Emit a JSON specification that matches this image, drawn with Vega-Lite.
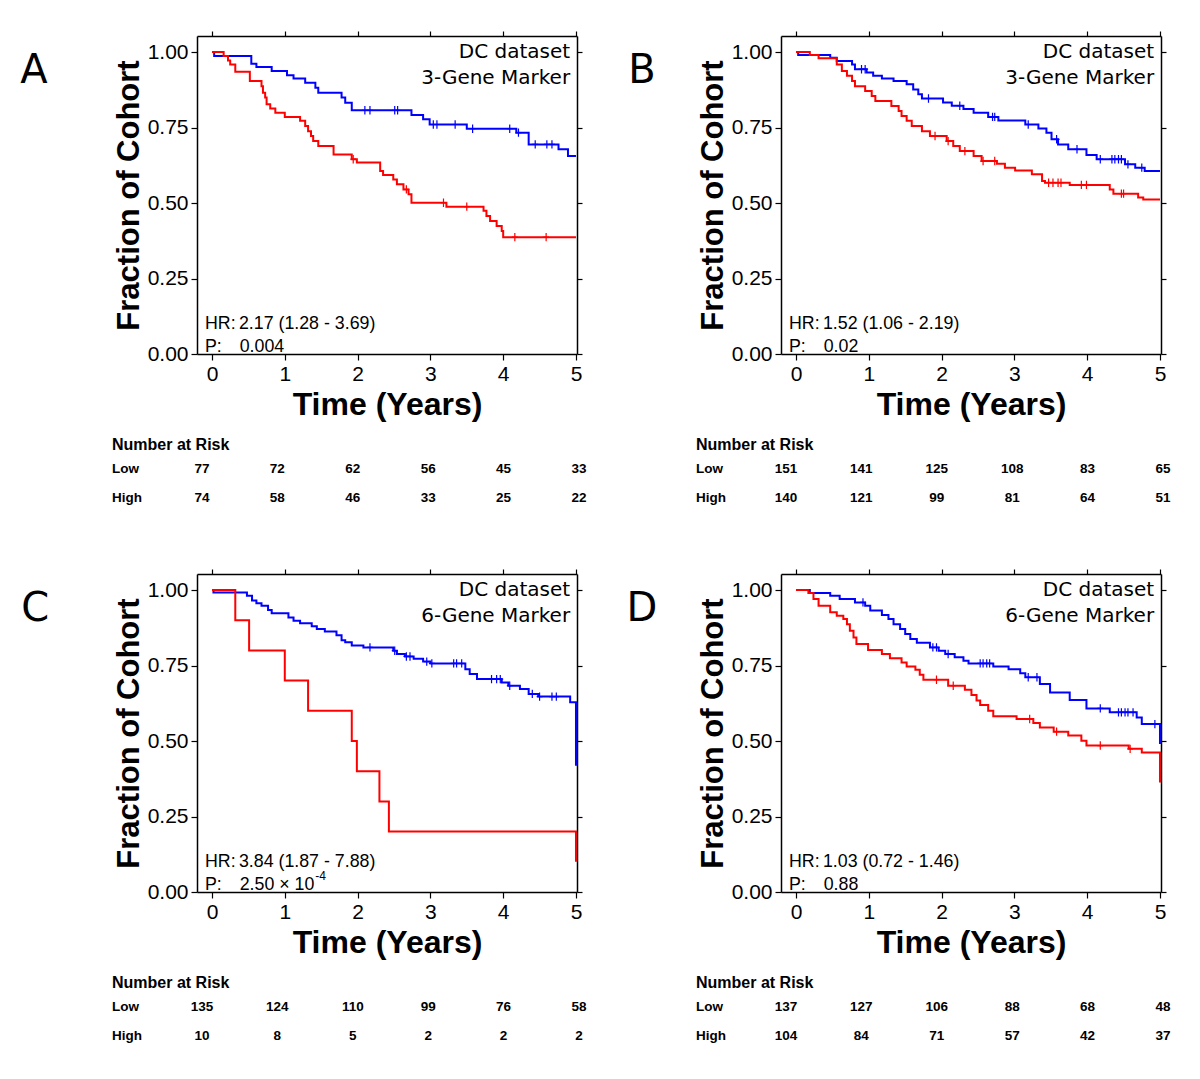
{
"$schema": "https://vega.github.io/schema/vega-lite/v6.json",
"padding": {"left": 20, "top": 30, "right": 10, "bottom": 10},
"datasets": {
"curves": [
{"panel":"A","group":"Low","t":0,"s":1},{"panel":"A","group":"Low","t":0.03,"s":0.987},{"panel":"A","group":"Low","t":0.54,"s":0.961},{"panel":"A","group":"Low","t":0.61,"s":0.95},{"panel":"A","group":"Low","t":0.82,"s":0.937},{"panel":"A","group":"Low","t":1.03,"s":0.923},{"panel":"A","group":"Low","t":1.12,"s":0.912},{"panel":"A","group":"Low","t":1.28,"s":0.898},{"panel":"A","group":"Low","t":1.42,"s":0.882},{"panel":"A","group":"Low","t":1.46,"s":0.865},{"panel":"A","group":"Low","t":1.78,"s":0.849},{"panel":"A","group":"Low","t":1.83,"s":0.832},{"panel":"A","group":"Low","t":1.92,"s":0.807},{"panel":"A","group":"Low","t":2.74,"s":0.791},{"panel":"A","group":"Low","t":2.9,"s":0.777},{"panel":"A","group":"Low","t":2.99,"s":0.76},{"panel":"A","group":"Low","t":3.5,"s":0.746},{"panel":"A","group":"Low","t":4.18,"s":0.733},{"panel":"A","group":"Low","t":4.35,"s":0.694},{"panel":"A","group":"Low","t":4.76,"s":0.678},{"panel":"A","group":"Low","t":4.89,"s":0.656},{"panel":"A","group":"Low","t":5,"s":0.656},
{"panel":"A","group":"High","t":0,"s":1},{"panel":"A","group":"High","t":0.16,"s":0.987},{"panel":"A","group":"High","t":0.22,"s":0.972},{"panel":"A","group":"High","t":0.25,"s":0.959},{"panel":"A","group":"High","t":0.32,"s":0.935},{"panel":"A","group":"High","t":0.52,"s":0.904},{"panel":"A","group":"High","t":0.68,"s":0.887},{"panel":"A","group":"High","t":0.7,"s":0.865},{"panel":"A","group":"High","t":0.73,"s":0.849},{"panel":"A","group":"High","t":0.75,"s":0.827},{"panel":"A","group":"High","t":0.8,"s":0.813},{"panel":"A","group":"High","t":0.87,"s":0.799},{"panel":"A","group":"High","t":1,"s":0.785},{"panel":"A","group":"High","t":1.21,"s":0.772},{"panel":"A","group":"High","t":1.28,"s":0.755},{"panel":"A","group":"High","t":1.32,"s":0.738},{"panel":"A","group":"High","t":1.36,"s":0.722},{"panel":"A","group":"High","t":1.39,"s":0.705},{"panel":"A","group":"High","t":1.46,"s":0.689},{"panel":"A","group":"High","t":1.67,"s":0.661},{"panel":"A","group":"High","t":1.92,"s":0.645},{"panel":"A","group":"High","t":1.99,"s":0.634},{"panel":"A","group":"High","t":2.31,"s":0.606},{"panel":"A","group":"High","t":2.35,"s":0.593},{"panel":"A","group":"High","t":2.49,"s":0.578},{"panel":"A","group":"High","t":2.54,"s":0.562},{"panel":"A","group":"High","t":2.63,"s":0.545},{"panel":"A","group":"High","t":2.7,"s":0.529},{"panel":"A","group":"High","t":2.74,"s":0.501},{"panel":"A","group":"High","t":3.22,"s":0.488},{"panel":"A","group":"High","t":3.73,"s":0.474},{"panel":"A","group":"High","t":3.77,"s":0.457},{"panel":"A","group":"High","t":3.82,"s":0.44},{"panel":"A","group":"High","t":3.91,"s":0.424},{"panel":"A","group":"High","t":3.98,"s":0.407},{"panel":"A","group":"High","t":4,"s":0.387},{"panel":"A","group":"High","t":5,"s":0.387},
{"panel":"B","group":"Low","t":0,"s":1},{"panel":"B","group":"Low","t":0.03,"s":0.99},{"panel":"B","group":"Low","t":0.47,"s":0.981},{"panel":"B","group":"Low","t":0.56,"s":0.97},{"panel":"B","group":"Low","t":0.77,"s":0.959},{"panel":"B","group":"Low","t":0.81,"s":0.943},{"panel":"B","group":"Low","t":0.97,"s":0.932},{"panel":"B","group":"Low","t":1.06,"s":0.921},{"panel":"B","group":"Low","t":1.18,"s":0.912},{"panel":"B","group":"Low","t":1.34,"s":0.904},{"panel":"B","group":"Low","t":1.52,"s":0.893},{"panel":"B","group":"Low","t":1.61,"s":0.876},{"panel":"B","group":"Low","t":1.68,"s":0.86},{"panel":"B","group":"Low","t":1.73,"s":0.846},{"panel":"B","group":"Low","t":2.02,"s":0.833},{"panel":"B","group":"Low","t":2.14,"s":0.822},{"panel":"B","group":"Low","t":2.3,"s":0.811},{"panel":"B","group":"Low","t":2.44,"s":0.799},{"panel":"B","group":"Low","t":2.64,"s":0.785},{"panel":"B","group":"Low","t":2.78,"s":0.773},{"panel":"B","group":"Low","t":3.15,"s":0.76},{"panel":"B","group":"Low","t":3.33,"s":0.747},{"panel":"B","group":"Low","t":3.44,"s":0.733},{"panel":"B","group":"Low","t":3.51,"s":0.711},{"panel":"B","group":"Low","t":3.6,"s":0.694},{"panel":"B","group":"Low","t":3.74,"s":0.678},{"panel":"B","group":"Low","t":3.99,"s":0.659},{"panel":"B","group":"Low","t":4.13,"s":0.645},{"panel":"B","group":"Low","t":4.52,"s":0.628},{"panel":"B","group":"Low","t":4.66,"s":0.617},{"panel":"B","group":"Low","t":4.79,"s":0.606},{"panel":"B","group":"Low","t":5,"s":0.606},
{"panel":"B","group":"High","t":0,"s":1},{"panel":"B","group":"High","t":0.19,"s":0.99},{"panel":"B","group":"High","t":0.31,"s":0.979},{"panel":"B","group":"High","t":0.56,"s":0.959},{"panel":"B","group":"High","t":0.63,"s":0.937},{"panel":"B","group":"High","t":0.7,"s":0.921},{"panel":"B","group":"High","t":0.77,"s":0.904},{"panel":"B","group":"High","t":0.81,"s":0.887},{"panel":"B","group":"High","t":0.95,"s":0.871},{"panel":"B","group":"High","t":1.04,"s":0.854},{"panel":"B","group":"High","t":1.09,"s":0.838},{"panel":"B","group":"High","t":1.31,"s":0.821},{"panel":"B","group":"High","t":1.41,"s":0.805},{"panel":"B","group":"High","t":1.45,"s":0.788},{"panel":"B","group":"High","t":1.52,"s":0.772},{"panel":"B","group":"High","t":1.59,"s":0.755},{"panel":"B","group":"High","t":1.73,"s":0.738},{"panel":"B","group":"High","t":1.84,"s":0.722},{"panel":"B","group":"High","t":2.07,"s":0.705},{"panel":"B","group":"High","t":2.16,"s":0.689},{"panel":"B","group":"High","t":2.25,"s":0.672},{"panel":"B","group":"High","t":2.44,"s":0.656},{"panel":"B","group":"High","t":2.55,"s":0.639},{"panel":"B","group":"High","t":2.76,"s":0.63},{"panel":"B","group":"High","t":2.87,"s":0.617},{"panel":"B","group":"High","t":3.01,"s":0.608},{"panel":"B","group":"High","t":3.24,"s":0.595},{"panel":"B","group":"High","t":3.38,"s":0.573},{"panel":"B","group":"High","t":3.42,"s":0.567},{"panel":"B","group":"High","t":3.76,"s":0.56},{"panel":"B","group":"High","t":4.31,"s":0.545},{"panel":"B","group":"High","t":4.36,"s":0.531},{"panel":"B","group":"High","t":4.7,"s":0.518},{"panel":"B","group":"High","t":4.77,"s":0.512},{"panel":"B","group":"High","t":5,"s":0.512},
{"panel":"C","group":"Low","t":0,"s":1},{"panel":"C","group":"Low","t":0.02,"s":0.992},{"panel":"C","group":"Low","t":0.48,"s":0.981},{"panel":"C","group":"Low","t":0.55,"s":0.965},{"panel":"C","group":"Low","t":0.61,"s":0.956},{"panel":"C","group":"Low","t":0.68,"s":0.948},{"panel":"C","group":"Low","t":0.77,"s":0.934},{"panel":"C","group":"Low","t":0.82,"s":0.923},{"panel":"C","group":"Low","t":1.05,"s":0.909},{"panel":"C","group":"Low","t":1.12,"s":0.898},{"panel":"C","group":"Low","t":1.21,"s":0.89},{"panel":"C","group":"Low","t":1.37,"s":0.88},{"panel":"C","group":"Low","t":1.44,"s":0.871},{"panel":"C","group":"Low","t":1.55,"s":0.863},{"panel":"C","group":"Low","t":1.71,"s":0.85},{"panel":"C","group":"Low","t":1.78,"s":0.834},{"panel":"C","group":"Low","t":1.83,"s":0.827},{"panel":"C","group":"Low","t":1.92,"s":0.816},{"panel":"C","group":"Low","t":2.08,"s":0.81},{"panel":"C","group":"Low","t":2.49,"s":0.799},{"panel":"C","group":"Low","t":2.54,"s":0.788},{"panel":"C","group":"Low","t":2.65,"s":0.78},{"panel":"C","group":"Low","t":2.77,"s":0.772},{"panel":"C","group":"Low","t":2.9,"s":0.763},{"panel":"C","group":"Low","t":3,"s":0.757},{"panel":"C","group":"Low","t":3.48,"s":0.738},{"panel":"C","group":"Low","t":3.54,"s":0.722},{"panel":"C","group":"Low","t":3.64,"s":0.705},{"panel":"C","group":"Low","t":3.98,"s":0.694},{"panel":"C","group":"Low","t":4.07,"s":0.683},{"panel":"C","group":"Low","t":4.23,"s":0.672},{"panel":"C","group":"Low","t":4.35,"s":0.656},{"panel":"C","group":"Low","t":4.48,"s":0.647},{"panel":"C","group":"Low","t":4.92,"s":0.628},{"panel":"C","group":"Low","t":5,"s":0.418},
{"panel":"C","group":"High","t":0,"s":1},{"panel":"C","group":"High","t":0.32,"s":0.9},{"panel":"C","group":"High","t":0.51,"s":0.8},{"panel":"C","group":"High","t":1,"s":0.7},{"panel":"C","group":"High","t":1.32,"s":0.6},{"panel":"C","group":"High","t":1.92,"s":0.5},{"panel":"C","group":"High","t":1.99,"s":0.4},{"panel":"C","group":"High","t":2.3,"s":0.3},{"panel":"C","group":"High","t":2.43,"s":0.2},{"panel":"C","group":"High","t":5,"s":0.1},
{"panel":"D","group":"Low","t":0,"s":1},{"panel":"D","group":"Low","t":0.19,"s":0.99},{"panel":"D","group":"Low","t":0.47,"s":0.981},{"panel":"D","group":"Low","t":0.6,"s":0.97},{"panel":"D","group":"Low","t":0.81,"s":0.959},{"panel":"D","group":"Low","t":0.95,"s":0.948},{"panel":"D","group":"Low","t":1.02,"s":0.932},{"panel":"D","group":"Low","t":1.18,"s":0.917},{"panel":"D","group":"Low","t":1.27,"s":0.904},{"panel":"D","group":"Low","t":1.34,"s":0.887},{"panel":"D","group":"Low","t":1.43,"s":0.871},{"panel":"D","group":"Low","t":1.5,"s":0.854},{"panel":"D","group":"Low","t":1.57,"s":0.838},{"panel":"D","group":"Low","t":1.66,"s":0.825},{"panel":"D","group":"Low","t":1.84,"s":0.81},{"panel":"D","group":"Low","t":1.96,"s":0.799},{"panel":"D","group":"Low","t":2.05,"s":0.788},{"panel":"D","group":"Low","t":2.18,"s":0.777},{"panel":"D","group":"Low","t":2.3,"s":0.766},{"panel":"D","group":"Low","t":2.37,"s":0.757},{"panel":"D","group":"Low","t":2.71,"s":0.747},{"panel":"D","group":"Low","t":2.92,"s":0.738},{"panel":"D","group":"Low","t":3.08,"s":0.724},{"panel":"D","group":"Low","t":3.15,"s":0.711},{"panel":"D","group":"Low","t":3.35,"s":0.689},{"panel":"D","group":"Low","t":3.49,"s":0.661},{"panel":"D","group":"Low","t":3.76,"s":0.636},{"panel":"D","group":"Low","t":3.99,"s":0.608},{"panel":"D","group":"Low","t":4.31,"s":0.595},{"panel":"D","group":"Low","t":4.68,"s":0.578},{"panel":"D","group":"Low","t":4.75,"s":0.556},{"panel":"D","group":"Low","t":5,"s":0.49},
{"panel":"D","group":"High","t":0,"s":1},{"panel":"D","group":"High","t":0.17,"s":0.99},{"panel":"D","group":"High","t":0.24,"s":0.97},{"panel":"D","group":"High","t":0.31,"s":0.948},{"panel":"D","group":"High","t":0.47,"s":0.926},{"panel":"D","group":"High","t":0.56,"s":0.915},{"panel":"D","group":"High","t":0.65,"s":0.904},{"panel":"D","group":"High","t":0.7,"s":0.887},{"panel":"D","group":"High","t":0.74,"s":0.865},{"panel":"D","group":"High","t":0.79,"s":0.843},{"panel":"D","group":"High","t":0.83,"s":0.821},{"panel":"D","group":"High","t":0.99,"s":0.801},{"panel":"D","group":"High","t":1.18,"s":0.788},{"panel":"D","group":"High","t":1.29,"s":0.774},{"panel":"D","group":"High","t":1.45,"s":0.76},{"panel":"D","group":"High","t":1.52,"s":0.747},{"panel":"D","group":"High","t":1.64,"s":0.736},{"panel":"D","group":"High","t":1.7,"s":0.719},{"panel":"D","group":"High","t":1.75,"s":0.703},{"panel":"D","group":"High","t":2.09,"s":0.683},{"panel":"D","group":"High","t":2.32,"s":0.67},{"panel":"D","group":"High","t":2.41,"s":0.652},{"panel":"D","group":"High","t":2.48,"s":0.634},{"panel":"D","group":"High","t":2.53,"s":0.619},{"panel":"D","group":"High","t":2.64,"s":0.6},{"panel":"D","group":"High","t":2.71,"s":0.582},{"panel":"D","group":"High","t":3.03,"s":0.573},{"panel":"D","group":"High","t":3.26,"s":0.56},{"panel":"D","group":"High","t":3.35,"s":0.545},{"panel":"D","group":"High","t":3.54,"s":0.531},{"panel":"D","group":"High","t":3.74,"s":0.518},{"panel":"D","group":"High","t":3.92,"s":0.501},{"panel":"D","group":"High","t":3.99,"s":0.485},{"panel":"D","group":"High","t":4.57,"s":0.474},{"panel":"D","group":"High","t":4.75,"s":0.462},{"panel":"D","group":"High","t":5,"s":0.363}
],
"censors": [
{"panel":"A","group":"Low","t":2.1,"s":0.807},{"panel":"A","group":"Low","t":2.17,"s":0.807},{"panel":"A","group":"Low","t":2.51,"s":0.807},{"panel":"A","group":"Low","t":2.55,"s":0.807},{"panel":"A","group":"Low","t":3.04,"s":0.76},{"panel":"A","group":"Low","t":3.09,"s":0.76},{"panel":"A","group":"Low","t":3.34,"s":0.76},{"panel":"A","group":"Low","t":3.58,"s":0.746},{"panel":"A","group":"Low","t":4.09,"s":0.746},{"panel":"A","group":"Low","t":4.21,"s":0.733},{"panel":"A","group":"Low","t":4.44,"s":0.694},{"panel":"A","group":"Low","t":4.6,"s":0.694},{"panel":"A","group":"Low","t":4.67,"s":0.694},
{"panel":"A","group":"High","t":1.94,"s":0.645},{"panel":"A","group":"High","t":2.67,"s":0.545},{"panel":"A","group":"High","t":3.18,"s":0.501},{"panel":"A","group":"High","t":3.5,"s":0.488},{"panel":"A","group":"High","t":4.16,"s":0.387},{"panel":"A","group":"High","t":4.59,"s":0.387},
{"panel":"B","group":"Low","t":0.9,"s":0.943},{"panel":"B","group":"Low","t":0.95,"s":0.943},{"panel":"B","group":"Low","t":1.82,"s":0.846},{"panel":"B","group":"Low","t":2.25,"s":0.822},{"panel":"B","group":"Low","t":2.7,"s":0.785},{"panel":"B","group":"Low","t":2.73,"s":0.785},{"panel":"B","group":"Low","t":3.19,"s":0.76},{"panel":"B","group":"Low","t":3.58,"s":0.711},{"panel":"B","group":"Low","t":3.86,"s":0.678},{"panel":"B","group":"Low","t":4.18,"s":0.645},{"panel":"B","group":"Low","t":4.34,"s":0.645},{"panel":"B","group":"Low","t":4.38,"s":0.645},{"panel":"B","group":"Low","t":4.43,"s":0.645},{"panel":"B","group":"Low","t":4.47,"s":0.645},{"panel":"B","group":"Low","t":4.56,"s":0.628},{"panel":"B","group":"Low","t":4.75,"s":0.617},
{"panel":"B","group":"High","t":1.91,"s":0.722},{"panel":"B","group":"High","t":2.09,"s":0.705},{"panel":"B","group":"High","t":2.32,"s":0.672},{"panel":"B","group":"High","t":2.57,"s":0.639},{"panel":"B","group":"High","t":2.73,"s":0.639},{"panel":"B","group":"High","t":3.47,"s":0.567},{"panel":"B","group":"High","t":3.53,"s":0.567},{"panel":"B","group":"High","t":3.6,"s":0.567},{"panel":"B","group":"High","t":3.64,"s":0.567},{"panel":"B","group":"High","t":3.92,"s":0.56},{"panel":"B","group":"High","t":3.99,"s":0.56},{"panel":"B","group":"High","t":4.47,"s":0.531},{"panel":"B","group":"High","t":4.5,"s":0.531},
{"panel":"C","group":"Low","t":2.17,"s":0.81},{"panel":"C","group":"Low","t":2.51,"s":0.799},{"panel":"C","group":"Low","t":2.67,"s":0.78},{"panel":"C","group":"Low","t":2.72,"s":0.78},{"panel":"C","group":"Low","t":2.95,"s":0.763},{"panel":"C","group":"Low","t":3.02,"s":0.757},{"panel":"C","group":"Low","t":3.32,"s":0.757},{"panel":"C","group":"Low","t":3.36,"s":0.757},{"panel":"C","group":"Low","t":3.43,"s":0.757},{"panel":"C","group":"Low","t":3.84,"s":0.705},{"panel":"C","group":"Low","t":3.91,"s":0.705},{"panel":"C","group":"Low","t":3.96,"s":0.705},{"panel":"C","group":"Low","t":4.09,"s":0.683},{"panel":"C","group":"Low","t":4.4,"s":0.656},{"panel":"C","group":"Low","t":4.5,"s":0.647},{"panel":"C","group":"Low","t":4.67,"s":0.647},{"panel":"C","group":"Low","t":4.73,"s":0.647},
{"panel":"D","group":"Low","t":0.92,"s":0.959},{"panel":"D","group":"Low","t":1.88,"s":0.81},{"panel":"D","group":"Low","t":1.93,"s":0.81},{"panel":"D","group":"Low","t":2.09,"s":0.788},{"panel":"D","group":"Low","t":2.53,"s":0.757},{"panel":"D","group":"Low","t":2.57,"s":0.757},{"panel":"D","group":"Low","t":2.62,"s":0.757},{"panel":"D","group":"Low","t":2.66,"s":0.757},{"panel":"D","group":"Low","t":3.19,"s":0.711},{"panel":"D","group":"Low","t":3.31,"s":0.711},{"panel":"D","group":"Low","t":4.18,"s":0.608},{"panel":"D","group":"Low","t":4.43,"s":0.595},{"panel":"D","group":"Low","t":4.47,"s":0.595},{"panel":"D","group":"Low","t":4.52,"s":0.595},{"panel":"D","group":"Low","t":4.56,"s":0.595},{"panel":"D","group":"Low","t":4.63,"s":0.595},{"panel":"D","group":"Low","t":4.93,"s":0.556},
{"panel":"D","group":"High","t":1.93,"s":0.703},{"panel":"D","group":"High","t":2.16,"s":0.683},{"panel":"D","group":"High","t":3.21,"s":0.573},{"panel":"D","group":"High","t":3.58,"s":0.531},{"panel":"D","group":"High","t":4.18,"s":0.485},{"panel":"D","group":"High","t":4.59,"s":0.474}
],
"stats": [
{"panel":"A","hr":"2.17 (1.28 - 3.69)","p":"0.004","pexp":""},
{"panel":"B","hr":"1.52 (1.06 - 2.19)","p":"0.02","pexp":""},
{"panel":"C","hr":"3.84 (1.87 - 7.88)","p":"2.50 × 10","pexp":"-4"},
{"panel":"D","hr":"1.03 (0.72 - 1.46)","p":"0.88","pexp":""}
],
"risk": [
{"panel":"A","group":"Low","col":1,"n":77},{"panel":"A","group":"Low","col":2,"n":72},{"panel":"A","group":"Low","col":3,"n":62},{"panel":"A","group":"Low","col":4,"n":56},{"panel":"A","group":"Low","col":5,"n":45},{"panel":"A","group":"Low","col":6,"n":33},
{"panel":"A","group":"High","col":1,"n":74},{"panel":"A","group":"High","col":2,"n":58},{"panel":"A","group":"High","col":3,"n":46},{"panel":"A","group":"High","col":4,"n":33},{"panel":"A","group":"High","col":5,"n":25},{"panel":"A","group":"High","col":6,"n":22},
{"panel":"B","group":"Low","col":1,"n":151},{"panel":"B","group":"Low","col":2,"n":141},{"panel":"B","group":"Low","col":3,"n":125},{"panel":"B","group":"Low","col":4,"n":108},{"panel":"B","group":"Low","col":5,"n":83},{"panel":"B","group":"Low","col":6,"n":65},
{"panel":"B","group":"High","col":1,"n":140},{"panel":"B","group":"High","col":2,"n":121},{"panel":"B","group":"High","col":3,"n":99},{"panel":"B","group":"High","col":4,"n":81},{"panel":"B","group":"High","col":5,"n":64},{"panel":"B","group":"High","col":6,"n":51},
{"panel":"C","group":"Low","col":1,"n":135},{"panel":"C","group":"Low","col":2,"n":124},{"panel":"C","group":"Low","col":3,"n":110},{"panel":"C","group":"Low","col":4,"n":99},{"panel":"C","group":"Low","col":5,"n":76},{"panel":"C","group":"Low","col":6,"n":58},
{"panel":"C","group":"High","col":1,"n":10},{"panel":"C","group":"High","col":2,"n":8},{"panel":"C","group":"High","col":3,"n":5},{"panel":"C","group":"High","col":4,"n":2},{"panel":"C","group":"High","col":5,"n":2},{"panel":"C","group":"High","col":6,"n":2},
{"panel":"D","group":"Low","col":1,"n":137},{"panel":"D","group":"Low","col":2,"n":127},{"panel":"D","group":"Low","col":3,"n":106},{"panel":"D","group":"Low","col":4,"n":88},{"panel":"D","group":"Low","col":5,"n":68},{"panel":"D","group":"Low","col":6,"n":48},
{"panel":"D","group":"High","col":1,"n":104},{"panel":"D","group":"High","col":2,"n":84},{"panel":"D","group":"High","col":3,"n":71},{"panel":"D","group":"High","col":4,"n":57},{"panel":"D","group":"High","col":5,"n":42},{"panel":"D","group":"High","col":6,"n":37}
]
},
"columns": 2,
"align": "all",
"spacing": {"row": 63, "column": 39},
"concat": [
{"spacing": 17, "vconcat": [
{"width": 380, "height": 318, "resolve": {"axis": {"x": "independent", "y": "independent"}},
 "layer": [
  {"data": {"name": "curves"}, "transform": [{"filter": "datum.panel === 'A'"}],
   "mark": {"type": "line", "interpolate": "step-after", "strokeWidth": 2},
   "encoding": {
    "x": {"field": "t", "type": "quantitative", "scale": {"domain": [-0.206, 5.014], "nice": false, "zero": false}, "axis": {"orient": "bottom", "values": [0,1,2,3,4,5], "title": "Time (Years)", "labelFlush": false, "titlePadding": 5, "titleFontSize": 32}},
    "y": {"field": "s", "type": "quantitative", "scale": {"domain": [0, 1.053], "nice": false, "zero": false}, "axis": {"orient": "left", "values": [0,0.25,0.5,0.75,1], "format": ".2f", "title": "Fraction of Cohort", "labelFlush": false}},
    "color": {"field": "group", "type": "nominal", "scale": {"domain": ["Low","High"], "range": ["#0000ff","#ff0000"]}, "legend": null}}},
  {"data": {"name": "censors"}, "transform": [{"filter": "datum.panel === 'A'"}],
   "mark": {"type": "point", "shape": "M0,-1L0,1M-0.7,0L0.7,0", "filled": false, "size": 70, "strokeWidth": 1.2, "opacity": 1},
   "encoding": {
    "x": {"field": "t", "type": "quantitative", "scale": {"domain": [-0.206, 5.014], "nice": false, "zero": false}, "axis": {"orient": "top", "values": [0,1,2,3,4,5], "labels": false, "title": null, "tickSize": 5}},
    "y": {"field": "s", "type": "quantitative", "scale": {"domain": [0, 1.053], "nice": false, "zero": false}, "axis": {"orient": "right", "values": [0,0.25,0.5,0.75,1], "labels": false, "title": null, "tickSize": 5}},
    "color": {"field": "group", "type": "nominal", "legend": null}}},
  {"data": {"name": "stats"}, "transform": [{"filter": "datum.panel === 'A'"}],
   "layer": [
    {"mark": {"type": "text", "align": "right", "baseline": "alphabetic", "font": "DejaVu Sans", "fontSize": 20, "lineHeight": 26, "fill": "#000"},
     "encoding": {"x": {"datum": 4.92, "type": "quantitative", "axis": null}, "y": {"datum": 0.98, "type": "quantitative", "axis": null}, "text": {"value": ["DC dataset", "3-Gene Marker"]}}},
    {"mark": {"type": "text", "align": "center", "baseline": "alphabetic", "font": "DejaVu Sans", "fontSize": 40, "fill": "#000"},
     "encoding": {"x": {"datum": -2.445, "type": "quantitative", "axis": null}, "y": {"datum": 0.897, "type": "quantitative", "axis": null}, "text": {"value": "A"}}},
    {"mark": {"type": "text", "align": "left", "baseline": "alphabetic", "font": "Liberation Sans", "fontSize": 17.8, "lineHeight": 23, "fill": "#000"},
     "encoding": {"x": {"datum": -0.096, "type": "quantitative", "axis": null}, "y": {"datum": 0.083, "type": "quantitative", "axis": null}, "text": {"value": ["HR:", "P:"]}}},
    {"mark": {"type": "text", "align": "left", "baseline": "alphabetic", "font": "Liberation Sans", "fontSize": 17.8, "fill": "#000"},
     "encoding": {"x": {"datum": 0.37, "type": "quantitative", "axis": null}, "y": {"datum": 0.083, "type": "quantitative", "axis": null}, "text": {"field": "hr"}}},
    {"mark": {"type": "text", "align": "left", "baseline": "alphabetic", "font": "Liberation Sans", "fontSize": 17.8, "fill": "#000"},
     "encoding": {"x": {"datum": 0.38, "type": "quantitative", "axis": null}, "y": {"datum": 0.0066, "type": "quantitative", "axis": null}, "text": {"field": "p"}}},
    {"mark": {"type": "text", "align": "left", "baseline": "alphabetic", "font": "Liberation Sans", "fontSize": 12, "dy": -10, "fill": "#000"},
     "encoding": {"x": {"datum": 1.42, "type": "quantitative", "axis": null}, "y": {"datum": 0.0066, "type": "quantitative", "axis": null}, "text": {"field": "pexp"}}}
   ]}
 ]},
{"width": 380, "height": 29, "data": {"name": "risk"}, "transform": [{"filter": "datum.panel === 'A'"}],
 "layer": [
  {"mark": {"type": "text", "align": "center", "baseline": "alphabetic", "font": "Liberation Sans", "fontWeight": "bold", "fontSize": 13.5, "fill": "#000"},
   "encoding": {"x": {"field": "col", "type": "quantitative", "scale": {"domain": [0.934, 5.974], "nice": false, "zero": false}, "axis": null},
    "y": {"field": "group", "type": "ordinal", "scale": {"domain": ["Low", "High"], "padding": 0}, "axis": null},
    "text": {"field": "n"}}},
  {"transform": [{"filter": "datum.col === 1"}],
   "mark": {"type": "text", "align": "left", "baseline": "alphabetic", "font": "Liberation Sans", "fontWeight": "bold", "fontSize": 13.5, "fill": "#000"},
   "encoding": {"x": {"datum": -0.193, "type": "quantitative", "axis": null}, "y": {"field": "group", "type": "ordinal", "axis": null}, "text": {"field": "group"}}},
  {"transform": [{"filter": "datum.col === 1 && datum.group === 'Low'"}],
   "mark": {"type": "text", "align": "left", "baseline": "alphabetic", "font": "Liberation Sans", "fontWeight": "bold", "fontSize": 16, "dy": -23, "fill": "#000"},
   "encoding": {"x": {"datum": -0.193, "type": "quantitative", "axis": null}, "y": {"field": "group", "type": "ordinal", "axis": null}, "text": {"value": "Number at Risk"}}}
 ]}
]},
{"spacing": 17, "vconcat": [
{"width": 380, "height": 318, "resolve": {"axis": {"x": "independent", "y": "independent"}},
 "layer": [
  {"data": {"name": "curves"}, "transform": [{"filter": "datum.panel === 'B'"}],
   "mark": {"type": "line", "interpolate": "step-after", "strokeWidth": 2},
   "encoding": {
    "x": {"field": "t", "type": "quantitative", "scale": {"domain": [-0.206, 5.014], "nice": false, "zero": false}, "axis": {"orient": "bottom", "values": [0,1,2,3,4,5], "title": "Time (Years)", "labelFlush": false, "titlePadding": 5, "titleFontSize": 32}},
    "y": {"field": "s", "type": "quantitative", "scale": {"domain": [0, 1.053], "nice": false, "zero": false}, "axis": {"orient": "left", "values": [0,0.25,0.5,0.75,1], "format": ".2f", "title": "Fraction of Cohort", "labelFlush": false}},
    "color": {"field": "group", "type": "nominal", "scale": {"domain": ["Low","High"], "range": ["#0000ff","#ff0000"]}, "legend": null}}},
  {"data": {"name": "censors"}, "transform": [{"filter": "datum.panel === 'B'"}],
   "mark": {"type": "point", "shape": "M0,-1L0,1M-0.7,0L0.7,0", "filled": false, "size": 70, "strokeWidth": 1.2, "opacity": 1},
   "encoding": {
    "x": {"field": "t", "type": "quantitative", "scale": {"domain": [-0.206, 5.014], "nice": false, "zero": false}, "axis": {"orient": "top", "values": [0,1,2,3,4,5], "labels": false, "title": null, "tickSize": 5}},
    "y": {"field": "s", "type": "quantitative", "scale": {"domain": [0, 1.053], "nice": false, "zero": false}, "axis": {"orient": "right", "values": [0,0.25,0.5,0.75,1], "labels": false, "title": null, "tickSize": 5}},
    "color": {"field": "group", "type": "nominal", "legend": null}}},
  {"data": {"name": "stats"}, "transform": [{"filter": "datum.panel === 'B'"}],
   "layer": [
    {"mark": {"type": "text", "align": "right", "baseline": "alphabetic", "font": "DejaVu Sans", "fontSize": 20, "lineHeight": 26, "fill": "#000"},
     "encoding": {"x": {"datum": 4.92, "type": "quantitative", "axis": null}, "y": {"datum": 0.98, "type": "quantitative", "axis": null}, "text": {"value": ["DC dataset", "3-Gene Marker"]}}},
    {"mark": {"type": "text", "align": "center", "baseline": "alphabetic", "font": "DejaVu Sans", "fontSize": 40, "fill": "#000"},
     "encoding": {"x": {"datum": -2.115, "type": "quantitative", "axis": null}, "y": {"datum": 0.897, "type": "quantitative", "axis": null}, "text": {"value": "B"}}},
    {"mark": {"type": "text", "align": "left", "baseline": "alphabetic", "font": "Liberation Sans", "fontSize": 17.8, "lineHeight": 23, "fill": "#000"},
     "encoding": {"x": {"datum": -0.096, "type": "quantitative", "axis": null}, "y": {"datum": 0.083, "type": "quantitative", "axis": null}, "text": {"value": ["HR:", "P:"]}}},
    {"mark": {"type": "text", "align": "left", "baseline": "alphabetic", "font": "Liberation Sans", "fontSize": 17.8, "fill": "#000"},
     "encoding": {"x": {"datum": 0.37, "type": "quantitative", "axis": null}, "y": {"datum": 0.083, "type": "quantitative", "axis": null}, "text": {"field": "hr"}}},
    {"mark": {"type": "text", "align": "left", "baseline": "alphabetic", "font": "Liberation Sans", "fontSize": 17.8, "fill": "#000"},
     "encoding": {"x": {"datum": 0.38, "type": "quantitative", "axis": null}, "y": {"datum": 0.0066, "type": "quantitative", "axis": null}, "text": {"field": "p"}}},
    {"mark": {"type": "text", "align": "left", "baseline": "alphabetic", "font": "Liberation Sans", "fontSize": 12, "dy": -10, "fill": "#000"},
     "encoding": {"x": {"datum": 1.42, "type": "quantitative", "axis": null}, "y": {"datum": 0.0066, "type": "quantitative", "axis": null}, "text": {"field": "pexp"}}}
   ]}
 ]},
{"width": 380, "height": 29, "data": {"name": "risk"}, "transform": [{"filter": "datum.panel === 'B'"}],
 "layer": [
  {"mark": {"type": "text", "align": "center", "baseline": "alphabetic", "font": "Liberation Sans", "fontWeight": "bold", "fontSize": 13.5, "fill": "#000"},
   "encoding": {"x": {"field": "col", "type": "quantitative", "scale": {"domain": [0.934, 5.974], "nice": false, "zero": false}, "axis": null},
    "y": {"field": "group", "type": "ordinal", "scale": {"domain": ["Low", "High"], "padding": 0}, "axis": null},
    "text": {"field": "n"}}},
  {"transform": [{"filter": "datum.col === 1"}],
   "mark": {"type": "text", "align": "left", "baseline": "alphabetic", "font": "Liberation Sans", "fontWeight": "bold", "fontSize": 13.5, "fill": "#000"},
   "encoding": {"x": {"datum": -0.193, "type": "quantitative", "axis": null}, "y": {"field": "group", "type": "ordinal", "axis": null}, "text": {"field": "group"}}},
  {"transform": [{"filter": "datum.col === 1 && datum.group === 'Low'"}],
   "mark": {"type": "text", "align": "left", "baseline": "alphabetic", "font": "Liberation Sans", "fontWeight": "bold", "fontSize": 16, "dy": -23, "fill": "#000"},
   "encoding": {"x": {"datum": -0.193, "type": "quantitative", "axis": null}, "y": {"field": "group", "type": "ordinal", "axis": null}, "text": {"value": "Number at Risk"}}}
 ]}
]},
{"spacing": 17, "vconcat": [
{"width": 380, "height": 318, "resolve": {"axis": {"x": "independent", "y": "independent"}},
 "layer": [
  {"data": {"name": "curves"}, "transform": [{"filter": "datum.panel === 'C'"}],
   "mark": {"type": "line", "interpolate": "step-after", "strokeWidth": 2},
   "encoding": {
    "x": {"field": "t", "type": "quantitative", "scale": {"domain": [-0.206, 5.014], "nice": false, "zero": false}, "axis": {"orient": "bottom", "values": [0,1,2,3,4,5], "title": "Time (Years)", "labelFlush": false, "titlePadding": 5, "titleFontSize": 32}},
    "y": {"field": "s", "type": "quantitative", "scale": {"domain": [0, 1.053], "nice": false, "zero": false}, "axis": {"orient": "left", "values": [0,0.25,0.5,0.75,1], "format": ".2f", "title": "Fraction of Cohort", "labelFlush": false}},
    "color": {"field": "group", "type": "nominal", "scale": {"domain": ["Low","High"], "range": ["#0000ff","#ff0000"]}, "legend": null}}},
  {"data": {"name": "censors"}, "transform": [{"filter": "datum.panel === 'C'"}],
   "mark": {"type": "point", "shape": "M0,-1L0,1M-0.7,0L0.7,0", "filled": false, "size": 70, "strokeWidth": 1.2, "opacity": 1},
   "encoding": {
    "x": {"field": "t", "type": "quantitative", "scale": {"domain": [-0.206, 5.014], "nice": false, "zero": false}, "axis": {"orient": "top", "values": [0,1,2,3,4,5], "labels": false, "title": null, "tickSize": 5}},
    "y": {"field": "s", "type": "quantitative", "scale": {"domain": [0, 1.053], "nice": false, "zero": false}, "axis": {"orient": "right", "values": [0,0.25,0.5,0.75,1], "labels": false, "title": null, "tickSize": 5}},
    "color": {"field": "group", "type": "nominal", "legend": null}}},
  {"data": {"name": "stats"}, "transform": [{"filter": "datum.panel === 'C'"}],
   "layer": [
    {"mark": {"type": "text", "align": "right", "baseline": "alphabetic", "font": "DejaVu Sans", "fontSize": 20, "lineHeight": 26, "fill": "#000"},
     "encoding": {"x": {"datum": 4.92, "type": "quantitative", "axis": null}, "y": {"datum": 0.98, "type": "quantitative", "axis": null}, "text": {"value": ["DC dataset", "6-Gene Marker"]}}},
    {"mark": {"type": "text", "align": "center", "baseline": "alphabetic", "font": "DejaVu Sans", "fontSize": 40, "fill": "#000"},
     "encoding": {"x": {"datum": -2.43, "type": "quantitative", "axis": null}, "y": {"datum": 0.897, "type": "quantitative", "axis": null}, "text": {"value": "C"}}},
    {"mark": {"type": "text", "align": "left", "baseline": "alphabetic", "font": "Liberation Sans", "fontSize": 17.8, "lineHeight": 23, "fill": "#000"},
     "encoding": {"x": {"datum": -0.096, "type": "quantitative", "axis": null}, "y": {"datum": 0.083, "type": "quantitative", "axis": null}, "text": {"value": ["HR:", "P:"]}}},
    {"mark": {"type": "text", "align": "left", "baseline": "alphabetic", "font": "Liberation Sans", "fontSize": 17.8, "fill": "#000"},
     "encoding": {"x": {"datum": 0.37, "type": "quantitative", "axis": null}, "y": {"datum": 0.083, "type": "quantitative", "axis": null}, "text": {"field": "hr"}}},
    {"mark": {"type": "text", "align": "left", "baseline": "alphabetic", "font": "Liberation Sans", "fontSize": 17.8, "fill": "#000"},
     "encoding": {"x": {"datum": 0.38, "type": "quantitative", "axis": null}, "y": {"datum": 0.0066, "type": "quantitative", "axis": null}, "text": {"field": "p"}}},
    {"mark": {"type": "text", "align": "left", "baseline": "alphabetic", "font": "Liberation Sans", "fontSize": 12, "dy": -10, "fill": "#000"},
     "encoding": {"x": {"datum": 1.42, "type": "quantitative", "axis": null}, "y": {"datum": 0.0066, "type": "quantitative", "axis": null}, "text": {"field": "pexp"}}}
   ]}
 ]},
{"width": 380, "height": 29, "data": {"name": "risk"}, "transform": [{"filter": "datum.panel === 'C'"}],
 "layer": [
  {"mark": {"type": "text", "align": "center", "baseline": "alphabetic", "font": "Liberation Sans", "fontWeight": "bold", "fontSize": 13.5, "fill": "#000"},
   "encoding": {"x": {"field": "col", "type": "quantitative", "scale": {"domain": [0.934, 5.974], "nice": false, "zero": false}, "axis": null},
    "y": {"field": "group", "type": "ordinal", "scale": {"domain": ["Low", "High"], "padding": 0}, "axis": null},
    "text": {"field": "n"}}},
  {"transform": [{"filter": "datum.col === 1"}],
   "mark": {"type": "text", "align": "left", "baseline": "alphabetic", "font": "Liberation Sans", "fontWeight": "bold", "fontSize": 13.5, "fill": "#000"},
   "encoding": {"x": {"datum": -0.193, "type": "quantitative", "axis": null}, "y": {"field": "group", "type": "ordinal", "axis": null}, "text": {"field": "group"}}},
  {"transform": [{"filter": "datum.col === 1 && datum.group === 'Low'"}],
   "mark": {"type": "text", "align": "left", "baseline": "alphabetic", "font": "Liberation Sans", "fontWeight": "bold", "fontSize": 16, "dy": -23, "fill": "#000"},
   "encoding": {"x": {"datum": -0.193, "type": "quantitative", "axis": null}, "y": {"field": "group", "type": "ordinal", "axis": null}, "text": {"value": "Number at Risk"}}}
 ]}
]},
{"spacing": 17, "vconcat": [
{"width": 380, "height": 318, "resolve": {"axis": {"x": "independent", "y": "independent"}},
 "layer": [
  {"data": {"name": "curves"}, "transform": [{"filter": "datum.panel === 'D'"}],
   "mark": {"type": "line", "interpolate": "step-after", "strokeWidth": 2},
   "encoding": {
    "x": {"field": "t", "type": "quantitative", "scale": {"domain": [-0.206, 5.014], "nice": false, "zero": false}, "axis": {"orient": "bottom", "values": [0,1,2,3,4,5], "title": "Time (Years)", "labelFlush": false, "titlePadding": 5, "titleFontSize": 32}},
    "y": {"field": "s", "type": "quantitative", "scale": {"domain": [0, 1.053], "nice": false, "zero": false}, "axis": {"orient": "left", "values": [0,0.25,0.5,0.75,1], "format": ".2f", "title": "Fraction of Cohort", "labelFlush": false}},
    "color": {"field": "group", "type": "nominal", "scale": {"domain": ["Low","High"], "range": ["#0000ff","#ff0000"]}, "legend": null}}},
  {"data": {"name": "censors"}, "transform": [{"filter": "datum.panel === 'D'"}],
   "mark": {"type": "point", "shape": "M0,-1L0,1M-0.7,0L0.7,0", "filled": false, "size": 70, "strokeWidth": 1.2, "opacity": 1},
   "encoding": {
    "x": {"field": "t", "type": "quantitative", "scale": {"domain": [-0.206, 5.014], "nice": false, "zero": false}, "axis": {"orient": "top", "values": [0,1,2,3,4,5], "labels": false, "title": null, "tickSize": 5}},
    "y": {"field": "s", "type": "quantitative", "scale": {"domain": [0, 1.053], "nice": false, "zero": false}, "axis": {"orient": "right", "values": [0,0.25,0.5,0.75,1], "labels": false, "title": null, "tickSize": 5}},
    "color": {"field": "group", "type": "nominal", "legend": null}}},
  {"data": {"name": "stats"}, "transform": [{"filter": "datum.panel === 'D'"}],
   "layer": [
    {"mark": {"type": "text", "align": "right", "baseline": "alphabetic", "font": "DejaVu Sans", "fontSize": 20, "lineHeight": 26, "fill": "#000"},
     "encoding": {"x": {"datum": 4.92, "type": "quantitative", "axis": null}, "y": {"datum": 0.98, "type": "quantitative", "axis": null}, "text": {"value": ["DC dataset", "6-Gene Marker"]}}},
    {"mark": {"type": "text", "align": "center", "baseline": "alphabetic", "font": "DejaVu Sans", "fontSize": 40, "fill": "#000"},
     "encoding": {"x": {"datum": -2.115, "type": "quantitative", "axis": null}, "y": {"datum": 0.897, "type": "quantitative", "axis": null}, "text": {"value": "D"}}},
    {"mark": {"type": "text", "align": "left", "baseline": "alphabetic", "font": "Liberation Sans", "fontSize": 17.8, "lineHeight": 23, "fill": "#000"},
     "encoding": {"x": {"datum": -0.096, "type": "quantitative", "axis": null}, "y": {"datum": 0.083, "type": "quantitative", "axis": null}, "text": {"value": ["HR:", "P:"]}}},
    {"mark": {"type": "text", "align": "left", "baseline": "alphabetic", "font": "Liberation Sans", "fontSize": 17.8, "fill": "#000"},
     "encoding": {"x": {"datum": 0.37, "type": "quantitative", "axis": null}, "y": {"datum": 0.083, "type": "quantitative", "axis": null}, "text": {"field": "hr"}}},
    {"mark": {"type": "text", "align": "left", "baseline": "alphabetic", "font": "Liberation Sans", "fontSize": 17.8, "fill": "#000"},
     "encoding": {"x": {"datum": 0.38, "type": "quantitative", "axis": null}, "y": {"datum": 0.0066, "type": "quantitative", "axis": null}, "text": {"field": "p"}}},
    {"mark": {"type": "text", "align": "left", "baseline": "alphabetic", "font": "Liberation Sans", "fontSize": 12, "dy": -10, "fill": "#000"},
     "encoding": {"x": {"datum": 1.42, "type": "quantitative", "axis": null}, "y": {"datum": 0.0066, "type": "quantitative", "axis": null}, "text": {"field": "pexp"}}}
   ]}
 ]},
{"width": 380, "height": 29, "data": {"name": "risk"}, "transform": [{"filter": "datum.panel === 'D'"}],
 "layer": [
  {"mark": {"type": "text", "align": "center", "baseline": "alphabetic", "font": "Liberation Sans", "fontWeight": "bold", "fontSize": 13.5, "fill": "#000"},
   "encoding": {"x": {"field": "col", "type": "quantitative", "scale": {"domain": [0.934, 5.974], "nice": false, "zero": false}, "axis": null},
    "y": {"field": "group", "type": "ordinal", "scale": {"domain": ["Low", "High"], "padding": 0}, "axis": null},
    "text": {"field": "n"}}},
  {"transform": [{"filter": "datum.col === 1"}],
   "mark": {"type": "text", "align": "left", "baseline": "alphabetic", "font": "Liberation Sans", "fontWeight": "bold", "fontSize": 13.5, "fill": "#000"},
   "encoding": {"x": {"datum": -0.193, "type": "quantitative", "axis": null}, "y": {"field": "group", "type": "ordinal", "axis": null}, "text": {"field": "group"}}},
  {"transform": [{"filter": "datum.col === 1 && datum.group === 'Low'"}],
   "mark": {"type": "text", "align": "left", "baseline": "alphabetic", "font": "Liberation Sans", "fontWeight": "bold", "fontSize": 16, "dy": -23, "fill": "#000"},
   "encoding": {"x": {"datum": -0.193, "type": "quantitative", "axis": null}, "y": {"field": "group", "type": "ordinal", "axis": null}, "text": {"value": "Number at Risk"}}}
 ]}
]}
],
"config": {
 "view": {"stroke": null},
 "axis": {"grid": false, "domainColor": "#000", "domainWidth": 1.5, "tickColor": "#000", "tickWidth": 1.2, "tickSize": 6, "labelFont": "Liberation Sans", "labelFontSize": 21, "labelColor": "#000", "labelPadding": 3, "labelOverlap": false, "titleFont": "Liberation Sans", "titleFontSize": 31, "titleFontWeight": "bold", "titleColor": "#000", "titlePadding": 2}
}
}
